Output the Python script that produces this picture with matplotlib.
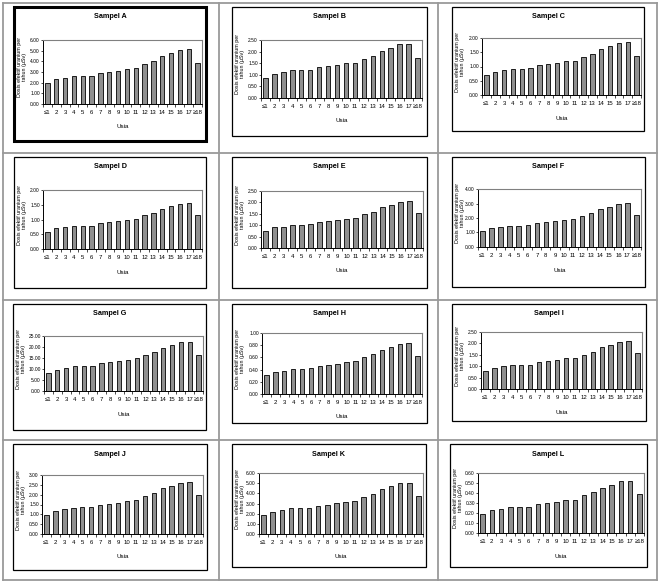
import matplotlib
matplotlib.use("Agg")
import matplotlib.pyplot as plt
import numpy as np
from matplotlib.lines import Line2D
from matplotlib.patches import Rectangle

plt.rcParams['font.family'] = ['Liberation Sans Narrow', 'Liberation Sans', 'DejaVu Sans']

categories = ["≤1", "2", "3", "4", "5", "6", "7", "8", "9", "10", "11", "12", "13", "14", "15", "16", "17", "≥18"]
titles = ["Sampel A", "Sampel B", "Sampel C", "Sampel D", "Sampel E", "Sampel F",
          "Sampel G", "Sampel H", "Sampel I", "Sampel J", "Sampel K", "Sampel L"]

sampel_a = [1.96, 2.33, 2.45, 2.60, 2.60, 2.67, 2.92, 3.00, 3.14, 3.32, 3.39, 3.73, 4.04, 4.50, 4.81, 5.09, 5.16, 3.85]
sampel_b = [0.86, 1.04, 1.10, 1.19, 1.19, 1.20, 1.33, 1.37, 1.43, 1.51, 1.53, 1.70, 1.83, 2.04, 2.17, 2.31, 2.34, 1.73]
sampel_c = [0.70, 0.81, 0.87, 0.92, 0.92, 0.94, 1.04, 1.08, 1.12, 1.19, 1.20, 1.35, 1.45, 1.61, 1.72, 1.84, 1.85, 1.38]
sampel_d = [0.58, 0.70, 0.75, 0.77, 0.78, 0.79, 0.88, 0.90, 0.95, 1.00, 1.01, 1.15, 1.22, 1.36, 1.45, 1.54, 1.57, 1.15]
sampel_e = [0.76, 0.90, 0.94, 1.00, 1.00, 1.04, 1.13, 1.18, 1.24, 1.29, 1.32, 1.51, 1.60, 1.78, 1.90, 2.01, 2.04, 1.54]
sampel_f = [1.13, 1.31, 1.40, 1.47, 1.47, 1.52, 1.68, 1.72, 1.82, 1.89, 1.93, 2.14, 2.34, 2.60, 2.78, 2.97, 3.01, 2.21]
sampel_g = [8.4, 9.7, 10.6, 11.2, 11.2, 11.5, 12.7, 13.0, 13.6, 14.3, 14.9, 16.3, 17.8, 19.6, 21.0, 22.2, 22.5, 16.4]
sampel_h = [0.31, 0.36, 0.38, 0.41, 0.41, 0.42, 0.46, 0.475, 0.50, 0.525, 0.54, 0.60, 0.66, 0.72, 0.77, 0.82, 0.83, 0.62]
sampel_i = [0.79, 0.92, 0.99, 1.04, 1.05, 1.07, 1.17, 1.21, 1.27, 1.34, 1.36, 1.51, 1.62, 1.83, 1.94, 2.05, 2.09, 1.56]
sampel_j = [0.99, 1.16, 1.26, 1.32, 1.35, 1.35, 1.47, 1.53, 1.60, 1.70, 1.72, 1.94, 2.09, 2.33, 2.46, 2.61, 2.66, 1.96]
sampel_k = [1.87, 2.16, 2.33, 2.52, 2.52, 2.56, 2.79, 2.89, 3.02, 3.18, 3.28, 3.67, 3.93, 4.39, 4.69, 4.98, 5.05, 3.70]
sampel_l = [0.19, 0.23, 0.24, 0.26, 0.26, 0.26, 0.29, 0.30, 0.31, 0.33, 0.333, 0.38, 0.41, 0.45, 0.48, 0.52, 0.52, 0.39]
series = [sampel_a, sampel_b, sampel_c, sampel_d, sampel_e, sampel_f,
          sampel_g, sampel_h, sampel_i, sampel_j, sampel_k, sampel_l]

y_max = [6.0, 2.5, 2.0, 2.0, 2.5, 4.0, 25.0, 1.0, 2.5, 3.0, 6.0, 0.6]
y_step = [1.0, 0.5, 0.5, 0.5, 0.5, 1.0, 5.0, 0.2, 0.5, 0.5, 1.0, 0.1]

x_label = "Usia"
y_label = "Dosis efektif uranium per\ntahun (µSv)"

W, H = 662, 583
fig = plt.figure(figsize=(W / 100, H / 100), dpi=100)

def frect(x0, y0, x1, y1):
    return [x0 / W, 1 - y1 / H, (x1 - x0) / W, (y1 - y0) / H]

# table grid
col_x = [3, 219, 438, 657]
row_y = [3, 153, 300, 440, 580]
for xv in col_x:
    fig.add_artist(Line2D([xv / W, xv / W], [1 - row_y[0] / H, 1 - row_y[-1] / H],
                          color='#9a9a9a', lw=1.3))
for yv in row_y:
    fig.add_artist(Line2D([col_x[0] / W, col_x[-1] / W], [1 - yv / H, 1 - yv / H],
                          color='#9a9a9a', lw=1.3))

boxes = [(14, 7, 206, 141), (232, 7, 427, 136), (452, 7, 644, 131),
         (14, 157, 206, 288), (232, 157, 427, 288), (452, 157, 645, 287),
         (13, 304, 206, 430), (232, 304, 427, 423), (452, 304, 646, 421),
         (13, 444, 207, 570), (232, 444, 426, 567), (450, 444, 647, 567)]
plots = [(43, 40, 202, 104), (261, 40, 422, 98), (482, 38, 641, 95),
         (43, 190, 202, 249), (261, 191, 423, 248), (478, 189, 641, 247),
         (44, 336, 203, 391), (262, 333, 422, 394), (481, 332, 642, 389),
         (42, 475, 203, 534), (259, 473, 423, 534), (478, 473, 644, 533)]

x = np.arange(len(categories))
for i in range(12):
    bx0, by0, bx1, by1 = boxes[i]
    fig.add_artist(Rectangle((bx0 / W, 1 - by1 / H), (bx1 - bx0) / W, (by1 - by0) / H,
                             transform=fig.transFigure, facecolor='white',
                             edgecolor='black', lw=2.2 if i == 0 else 0.9, zorder=0))
    px0, py0, px1, py1 = plots[i]
    ax = fig.add_axes(frect(px0, py0, px1, py1))
    ax.bar(x, series[i], width=0.5, color='#8f8f8f', edgecolor='black', lw=0.6, zorder=3)
    ax.set_xlim(-0.5, len(categories) - 0.5)
    ax.set_ylim(0, y_max[i])
    yt = np.arange(0, y_max[i] + y_step[i] / 2, y_step[i])
    ax.set_yticks(yt)
    ax.set_yticklabels([f"{v:.2f}" for v in yt], fontsize=3.5)
    ax.set_xticks(np.arange(-0.5, len(categories), 1.0))
    ax.set_xticklabels([])
    ax.set_xticks(x, minor=True)
    ax.set_xticklabels(categories, minor=True, fontsize=4.3)
    ax.tick_params(axis='x', which='major', length=2, width=0.5, direction='out')
    ax.tick_params(axis='x', which='minor', length=0, pad=4)
    ax.tick_params(axis='y', length=1.5, width=0.5, pad=0.8)
    for s in ['top', 'right']:
        ax.spines[s].set_color('#808080')
        ax.spines[s].set_linewidth(0.8)
    for s in ['left', 'bottom']:
        ax.spines[s].set_color('black')
        ax.spines[s].set_linewidth(0.7)
    cx = (bx0 + bx1) / 2
    fig.text(cx / W, 1 - (by0 + 10) / H, titles[i], ha='center', va='center',
             fontsize=5.2, fontweight='bold')
    fig.text(((px0 + px1) / 2) / W, 1 - (py1 + 23) / H, x_label, ha='center', va='center',
             fontsize=4.5)
    fig.text((bx0 + 8) / W, 1 - ((py0 + py1) / 2 - 5) / H, y_label, ha='center', va='center',
             rotation=90, fontsize=3.9, linespacing=0.85)

fig.savefig("out.png", dpi=100)
